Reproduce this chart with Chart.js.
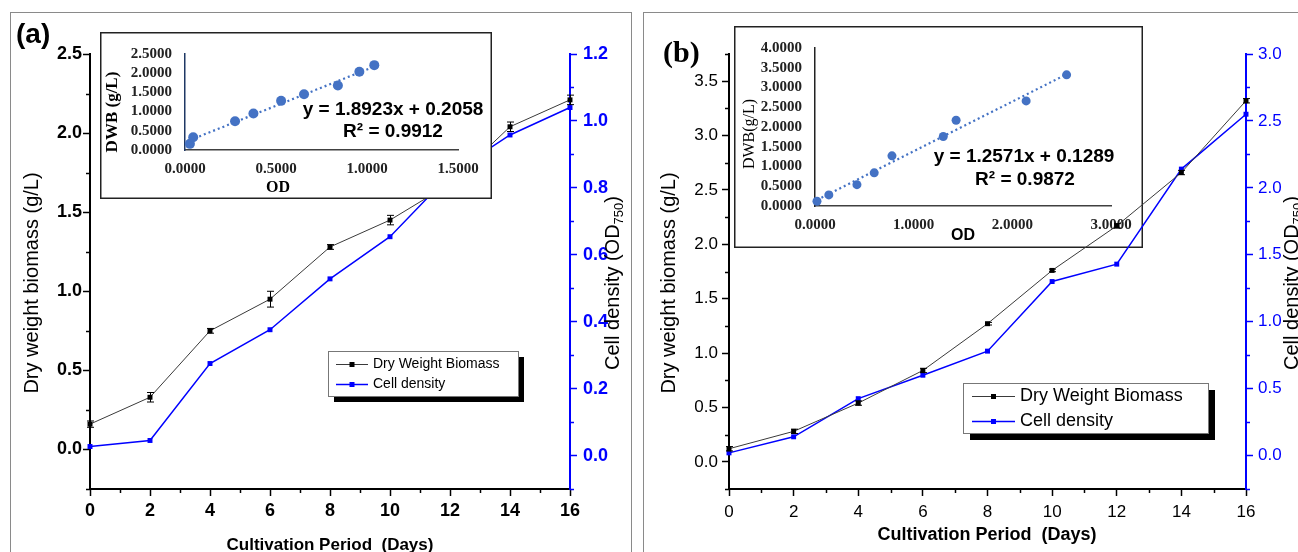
<!DOCTYPE html>
<html>
<head>
<meta charset="utf-8">
<script src="https://cdn.jsdelivr.net/npm/chart.js@4.4.1/dist/chart.umd.min.js"></script>
<style>
  html, body { margin: 0; padding: 0; background: #fff; }
  body { width: 1298px; height: 552px; overflow: hidden; position: relative; }
  canvas, .frame { position: absolute; }
  .frame { border: 1.5px solid #8a8a8a; box-sizing: border-box; }
</style>
</head>
<body>
<div class="frame" style="left:10px; top:12px; width:622px; height:570px;"></div>
<div class="frame" style="left:643px; top:12px; width:700px; height:570px;"></div>
<canvas id="mainA" width="640" height="552" style="left:0; top:0; z-index:1"></canvas>
<canvas id="insetA" width="392" height="167" style="left:100px; top:32px; z-index:2"></canvas>
<canvas id="insetB" width="409" height="222" style="left:734px; top:26px; z-index:1"></canvas>
<canvas id="mainB" width="658" height="552" style="left:640px; top:0; z-index:2"></canvas>
<script>
// cultivation days (shared by both panels)
const DAYS = [0, 2, 4, 6, 8, 10, 12, 14, 16];
const DAY_TICKS = [0, 2, 4, 6, 8, 10, 12, 14, 16];

// panel (a)
const DWB_A = [0.16, 0.33, 0.75, 0.95, 1.28, 1.45, 1.68, 2.04, 2.21];
const DWB_ERR_A = [0.02, 0.03, 0.015, 0.05, 0.015, 0.03, 0.03, 0.03, 0.03];
const OD_A = [0.027, 0.045, 0.275, 0.376, 0.528, 0.654, 0.84, 0.958, 1.04];
const DWB_TICKS_A = [0, 0.5, 1.0, 1.5, 2.0, 2.5];
const OD_TICKS_A = [0, 0.2, 0.4, 0.6, 0.8, 1.0, 1.2];
const INSET_X_TICKS_A = [0, 0.5, 1.0, 1.5];
const INSET_Y_TICKS_A = [0, 0.5, 1.0, 1.5, 2.0, 2.5];
const SLOPE_A = 1.8923, INTERCEPT_A = 0.2058, R2_A = 0.9912;

// panel (b)
const DWB_B = [0.12, 0.28, 0.54, 0.84, 1.27, 1.76, 2.17, 2.66, 3.32];
const DWB_ERR_B = [0.02, 0.02, 0.02, 0.02, 0.012, 0.012, 0.02, 0.02, 0.02];
const OD_B = [0.02, 0.14, 0.425, 0.6, 0.78, 1.30, 1.43, 2.14, 2.55];
const DWB_TICKS_B = [0, 0.5, 1.0, 1.5, 2.0, 2.5, 3.0, 3.5];
const OD_TICKS_B = [0, 0.5, 1.0, 1.5, 2.0, 2.5, 3.0];
const INSET_X_TICKS_B = [0, 1, 2, 3];
const INSET_Y_TICKS_B = [0, 0.5, 1.0, 1.5, 2.0, 2.5, 3.0, 3.5, 4.0];
const SLOPE_B = 1.2571, INTERCEPT_B = 0.1289, R2_B = 0.9872;

const SANS = "'Liberation Sans', Arial, sans-serif";
const SERIF = "'Liberation Serif', 'Times New Roman', serif";
const BLUE = '#0000ff';
const XL_BLUE = '#4472c4';

Chart.defaults.font.family = SANS;

const fixedTicks = values => scale => { scale.ticks = values.map(v => ({ value: v })); };

function text(ctx, str, x, y, font, opts = {}) {
    ctx.save();
    ctx.font = font;
    ctx.fillStyle = opts.color || '#000';
    ctx.textAlign = opts.align || 'center';
    ctx.textBaseline = 'middle';
    ctx.translate(x, y);
    if (opts.rotate) ctx.rotate(opts.rotate);
    ctx.fillText(str, 0, 0);
    ctx.restore();
}

// rotated "Cell density (OD750)" with subscript
function odTitle(ctx, x, y, size) {
    const main = size + 'px ' + SANS;
    const sub = Math.round(size * 0.65) + 'px ' + SANS;
    const parts = [['Cell density (OD', main, 0], ['750', sub, size * 0.3], [')', main, 0]];
    ctx.save();
    ctx.translate(x, y);
    ctx.rotate(-Math.PI / 2);
    let total = 0;
    parts.forEach(p => { ctx.font = p[1]; total += ctx.measureText(p[0]).width; });
    let cx = -total / 2;
    ctx.textBaseline = 'middle';
    ctx.textAlign = 'left';
    ctx.fillStyle = '#000';
    parts.forEach(p => {
        ctx.font = p[1];
        ctx.fillText(p[0], cx, p[2]);
        cx += ctx.measureText(p[0]).width;
    });
    ctx.restore();
}

// short minor ticks between the major ones
const minorTicks = {
    id: 'minorTicks',
    afterDraw(chart) {
        const ctx = chart.ctx;
        Object.values(chart.scales).forEach(s => {
            const step = s.options.minorStep;
            if (!step) return;
            ctx.save();
            ctx.strokeStyle = s.options.minorColor || '#000';
            ctx.lineWidth = 1.5;
            const first = Math.ceil(s.min / step - 1e-6) * step;
            for (let v = first; v <= s.max + 1e-6; v += step) {
                if (s.ticks.some(t => Math.abs(t.value - v) < 1e-6)) continue;
                const p = Math.round(s.getPixelForValue(v)) + 0.5;
                ctx.beginPath();
                if (s.position === 'left') { ctx.moveTo(s.right, p); ctx.lineTo(s.right - 4, p); }
                else if (s.position === 'right') { ctx.moveTo(s.left, p); ctx.lineTo(s.left + 4, p); }
                else { ctx.moveTo(p, s.top); ctx.lineTo(p, s.top + 4); }
                ctx.stroke();
            }
            ctx.restore();
        });
    }
};

function errorBars(errs) {
    return {
        id: 'errorBars',
        afterDatasetsDraw(chart) {
            const ctx = chart.ctx;
            const ds = chart.data.datasets[0];
            const ys = chart.scales.y, xs = chart.scales.x;
            ctx.save();
            ctx.strokeStyle = '#000';
            ctx.lineWidth = 1;
            ds.data.forEach((pt, i) => {
                const x = Math.round(xs.getPixelForValue(pt.x)) + 0.5;
                const y0 = ys.getPixelForValue(pt.y - errs[i]);
                const y1 = ys.getPixelForValue(pt.y + errs[i]);
                ctx.beginPath();
                ctx.moveTo(x, y0); ctx.lineTo(x, y1);
                ctx.moveTo(x - 3.5, y0); ctx.lineTo(x + 3.5, y0);
                ctx.moveTo(x - 3.5, y1); ctx.lineTo(x + 3.5, y1);
                ctx.stroke();
            });
            ctx.restore();
        }
    };
}

function drawLegend(ctx, chart, L) {
    const [x, y, w, h] = L.box;
    ctx.save();
    ctx.fillStyle = '#000';
    ctx.fillRect(x + L.shadow, y + L.shadow, w, h);
    ctx.fillStyle = '#fff';
    ctx.fillRect(x, y, w, h);
    ctx.strokeStyle = '#777';
    ctx.lineWidth = 1;
    ctx.strokeRect(x + 0.5, y + 0.5, w, h);
    chart.data.datasets.forEach((ds, i) => {
        const ry = L.rows[i] + 0.5;
        ctx.strokeStyle = ds.borderColor;
        ctx.lineWidth = ds.borderWidth;
        ctx.beginPath();
        ctx.moveTo(L.line[0], ry); ctx.lineTo(L.line[1], ry);
        ctx.stroke();
        const mx = (L.line[0] + L.line[1]) / 2;
        ctx.fillStyle = ds.pointBackgroundColor;
        ctx.fillRect(mx - 2.5, ry - 2.5, 5, 5);
        ctx.font = L.font;
        ctx.fillStyle = '#000';
        ctx.textBaseline = 'middle';
        ctx.textAlign = 'left';
        ctx.fillText(ds.label, L.textX, ry);
    });
    ctx.restore();
}

function buildMain(id, p) {
    const tickFont = { family: SANS, size: p.tickSize, weight: p.boldTicks ? 'bold' : 'normal' };
    const axisGrid = color => ({ display: true, drawOnChartArea: false, drawTicks: true, tickLength: 7, tickWidth: 1.5, tickColor: color });
    return new Chart(document.getElementById(id), {
        type: 'line',
        data: {
            datasets: [{
                label: 'Dry Weight Biomass',
                data: DAYS.map((d, i) => ({ x: d, y: p.dwb[i] })),
                yAxisID: 'y',
                borderColor: '#3a3a3a',
                borderWidth: 1,
                pointStyle: 'rect',
                pointRadius: 3.5,
                pointBackgroundColor: '#000',
                pointBorderWidth: 0,
                clip: false
            }, {
                label: 'Cell density',
                data: DAYS.map((d, i) => ({ x: d, y: p.od[i] })),
                yAxisID: 'y2',
                borderColor: BLUE,
                borderWidth: 1.5,
                pointStyle: 'rect',
                pointRadius: 3.5,
                pointBackgroundColor: BLUE,
                pointBorderWidth: 0,
                clip: false
            }]
        },
        options: {
            responsive: false,
            animation: false,
            events: [],
            layout: { padding: { top: 54, left: 0, right: 0, bottom: 0 } },
            plugins: { legend: { display: false }, tooltip: { enabled: false } },
            scales: {
                x: {
                    type: 'linear', position: 'bottom', min: 0, max: 16,
                    minorStep: 1,
                    afterBuildTicks: fixedTicks(DAY_TICKS),
                    afterFit: s => { s.height = 63; },
                    ticks: { font: tickFont, color: '#000', padding: p.xPad, autoSkip: false, maxRotation: 0, callback: v => v },
                    grid: axisGrid('#000'),
                    border: { display: true, color: '#000', width: 2 }
                },
                y: {
                    type: 'linear', position: 'left', min: -0.25, max: p.dwbMax,
                    minorStep: 0.25,
                    afterBuildTicks: fixedTicks(p.dwbTicks),
                    afterFit: s => { s.width = p.leftW; },
                    ticks: { font: tickFont, color: '#000', padding: p.yPad, autoSkip: false, callback: v => v.toFixed(1) },
                    grid: axisGrid('#000'),
                    border: { display: true, color: '#000', width: 2 }
                },
                y2: {
                    type: 'linear', position: 'right', min: p.odMin, max: p.odMax,
                    minorStep: p.odMinor, minorColor: BLUE,
                    afterBuildTicks: fixedTicks(p.odTicks),
                    afterFit: s => { s.width = p.rightW; },
                    ticks: { font: tickFont, color: BLUE, padding: p.y2Pad, autoSkip: false, callback: v => v.toFixed(1) },
                    grid: axisGrid(BLUE),
                    border: { display: true, color: BLUE, width: 2 }
                }
            }
        },
        plugins: [minorTicks, errorBars(p.err), { id: 'annot', afterDraw: chart => p.draw(chart.ctx, chart) }]
    });
}

function buildInset(id, p) {
    const tickFont = { family: SERIF, size: 15, weight: 'bold' };
    const trendX = [Math.min(...p.od), Math.max(...p.od)];
    return new Chart(document.getElementById(id), {
        type: 'scatter',
        data: {
            datasets: [{
                data: p.od.map((x, i) => ({ x: x, y: p.dwb[i] })),
                pointRadius: p.dot,
                pointBackgroundColor: XL_BLUE,
                pointBorderWidth: 0,
                clip: false
            }, {
                data: trendX.map(x => ({ x: x, y: p.slope * x + p.intercept })),
                showLine: true,
                borderColor: XL_BLUE,
                borderWidth: 2.2,
                borderDash: [2, 3],
                pointRadius: 0,
                clip: false
            }]
        },
        options: {
            responsive: false,
            animation: false,
            events: [],
            layout: { padding: p.padding },
            plugins: { legend: { display: false }, tooltip: { enabled: false } },
            scales: {
                x: {
                    type: 'linear', min: 0, max: p.xMax,
                    afterBuildTicks: fixedTicks(p.xTicks),
                    afterFit: s => { s.height = p.bottomH; },
                    ticks: { font: tickFont, color: '#222', padding: 10, autoSkip: false, maxRotation: 0, callback: v => v.toFixed(4) },
                    grid: { display: false, drawTicks: false, tickLength: 0 },
                    border: { display: true, color: '#404040', width: 1.5 }
                },
                y: {
                    type: 'linear', min: 0, max: p.yMax,
                    afterBuildTicks: fixedTicks(p.yTicks),
                    afterFit: s => { s.width = p.leftW; },
                    ticks: { font: tickFont, color: '#222', padding: 13, autoSkip: false, callback: v => v.toFixed(4) },
                    grid: { display: false, drawTicks: false, tickLength: 0 },
                    border: { display: true, color: p.yAxisColor, width: 1.5 }
                }
            }
        },
        plugins: [{
            id: 'insetBox',
            beforeDraw(chart) {
                const c = chart.ctx;
                c.save();
                c.fillStyle = '#fff';
                c.fillRect(0, 0, chart.width, chart.height);
                c.restore();
            },
            afterDraw(chart) {
                const c = chart.ctx;
                p.draw(c, chart);
                c.save();
                c.strokeStyle = '#222';
                c.lineWidth = 1.5;
                c.strokeRect(0.75, 0.75, chart.width - 1.5, chart.height - 1.5);
                c.restore();
            }
        }]
    });
}

const eqText = (m, b) => 'y = ' + m.toFixed(4) + 'x + ' + b.toFixed(4);

// ---- panel (a) ----
buildMain('mainA', {
    dwb: DWB_A, od: OD_A, err: DWB_ERR_A,
    dwbTicks: DWB_TICKS_A, odTicks: OD_TICKS_A,
    dwbMax: 2.5, odMin: -0.1, odMax: 1.2, odMinor: 0.1,
    leftW: 90, rightW: 70, boldTicks: true, tickSize: 18,
    xPad: 4, yPad: 1, y2Pad: 6,
    draw(ctx, chart) {
        text(ctx, '(a)', 16, 35, 'bold 28px ' + SANS, { align: 'left' });
        text(ctx, 'Dry weight biomass (g/L)', 32, 283, '20px ' + SANS, { rotate: -Math.PI / 2 });
        odTitle(ctx, 613, 283, 20);
        text(ctx, 'Cultivation Period  (Days)', 330, 545, 'bold 17px ' + SANS);
        drawLegend(ctx, chart, { box: [328, 351, 190, 45], shadow: 6, rows: [364, 384], line: [336, 368], textX: 373, font: '14px ' + SANS });
    }
});

buildInset('insetA', {
    od: OD_A, dwb: DWB_A, slope: SLOPE_A, intercept: INTERCEPT_A,
    xTicks: INSET_X_TICKS_A, yTicks: INSET_Y_TICKS_A, xMax: 1.5, yMax: 2.5,
    padding: { top: 10, right: 34, left: 0, bottom: 0 }, leftW: 85, bottomH: 49,
    dot: 5, yAxisColor: '#1f3864',
    draw(ctx) {
        text(ctx, 'DWB (g/L)', 13, 80, 'bold 17px ' + SERIF, { rotate: -Math.PI / 2 });
        text(ctx, 'OD', 178, 156, 'bold 16px ' + SERIF);
        text(ctx, eqText(SLOPE_A, INTERCEPT_A), 293, 78, 'bold 19px ' + SANS);
        text(ctx, 'R\u00b2 = ' + R2_A.toFixed(4), 293, 100, 'bold 19px ' + SANS);
    }
});

// ---- panel (b) ----
buildInset('insetB', {
    od: OD_B, dwb: DWB_B, slope: SLOPE_B, intercept: INTERCEPT_B,
    xTicks: INSET_X_TICKS_B, yTicks: INSET_Y_TICKS_B, xMax: 3, yMax: 4,
    padding: { top: 16, right: 32, left: 0, bottom: 0 }, leftW: 81, bottomH: 42,
    dot: 4.5, yAxisColor: '#222',
    draw(ctx) {
        text(ctx, 'DWB(g/L)', 16, 108, '16px ' + SERIF, { rotate: -Math.PI / 2 });
        text(ctx, 'OD', 229, 210, 'bold 16px ' + SANS);
        text(ctx, eqText(SLOPE_B, INTERCEPT_B), 290, 131, 'bold 19px ' + SANS);
        text(ctx, 'R\u00b2 = ' + R2_B.toFixed(4), 291, 154, 'bold 19px ' + SANS);
    }
});

buildMain('mainB', {
    dwb: DWB_B, od: OD_B, err: DWB_ERR_B,
    dwbTicks: DWB_TICKS_B, odTicks: OD_TICKS_B,
    dwbMax: 3.75, odMin: -0.25, odMax: 3.0, odMinor: 0.25,
    leftW: 89, rightW: 52, boldTicks: false, tickSize: 17,
    xPad: 6, yPad: 4, y2Pad: 5,
    draw(ctx, chart) {
        text(ctx, '(b)', 23, 54, 'bold 30px ' + SERIF, { align: 'left' });
        text(ctx, 'Dry weight biomass (g/L)', 29, 283, '20px ' + SANS, { rotate: -Math.PI / 2 });
        odTitle(ctx, 652, 283, 20);
        text(ctx, 'Cultivation Period  (Days)', 347, 535, 'bold 18px ' + SANS);
        drawLegend(ctx, chart, { box: [323, 383, 245, 50], shadow: 7, rows: [396, 421], line: [332, 375], textX: 380, font: '18px ' + SANS });
    }
});
</script>
</body>
</html>
